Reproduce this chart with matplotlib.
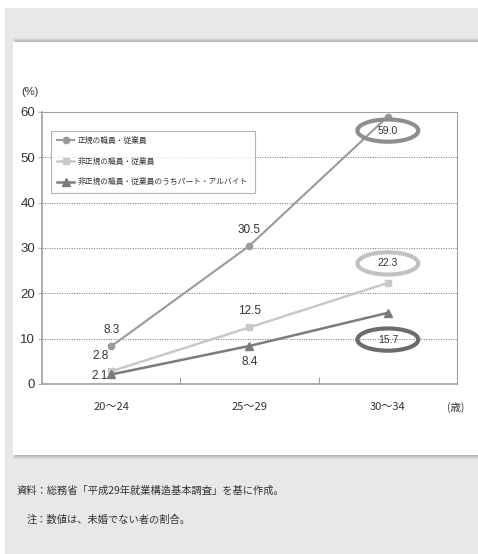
import matplotlib
matplotlib.use("Agg")
import matplotlib.pyplot as plt
from matplotlib import font_manager
from matplotlib.patches import Rectangle, Ellipse

# age groups and shares (%)
ages = ["20～24", "25～29", "30～34"]
regular = [8.3, 30.5, 59.0]
nonregular = [2.8, 12.5, 22.3]
parttime = [2.1, 8.4, 15.7]
series_names = ["正規の職員・従業員", "非正規の職員・従業員", "非正規の職員・従業員のうちパート・アルバイト"]
yticks = [0, 10, 20, 30, 40, 50, 60]

source_note = "資料：総務省「平成29年就業構造基本調査」を基に作成。"
value_note = "注：数値は、未婚でない者の割合。"

available = {f.name for f in font_manager.fontManager.ttflist}
num_font = "Liberation Sans Narrow" if "Liberation Sans Narrow" in available else "Liberation Sans"
jp_font = ["Noto Sans CJK JP", "DejaVu Sans"]
plt.rcParams["font.family"] = jp_font

c_reg = "#9a9a9a"
c_non = "#c9c9c9"
c_part = "#7c7c7c"
c_axis = "#a0a0a0"
c_text = "#333333"

fig = plt.figure(figsize=(4.78, 5.54), dpi=100)
W, H = 478, 554

def fx(px):
    return px / W

def fy(py):
    return 1 - py / H

# page background and white card with a soft shadow
fig.patches.append(Rectangle((fx(5), 0), 1, fy(8), transform=fig.transFigure,
                             facecolor="#e7e8ea", edgecolor="none", zorder=-3))
for k, a in enumerate([0.05, 0.05, 0.06, 0.07]):
    fig.patches.append(Rectangle((fx(13 + k), fy(459 - k)), 1, (459 - 42 - 2 * k + 4) / H,
                                 transform=fig.transFigure, facecolor="#000000",
                                 alpha=a, edgecolor="none", zorder=-2))
fig.patches.append(Rectangle((fx(13), fy(455)), 1, (455 - 42) / H, transform=fig.transFigure,
                             facecolor="white", edgecolor="none", zorder=-1))

ax = fig.add_axes([fx(42), fy(384), fx(457) - fx(42), fy(112) - fy(384)])
x = list(range(len(ages)))

l1, = ax.plot(x, regular, color=c_reg, lw=1.5, marker="o", ms=4.5, zorder=4)
l2, = ax.plot(x, nonregular, color=c_non, lw=1.8, marker="s", ms=4.5, zorder=3)
l3, = ax.plot(x, parttime, color=c_part, lw=1.8, marker="^", ms=5.5, zorder=5)

ax.set_xlim(-0.5, 2.5)
ax.set_ylim(0, 60)
ax.set_yticks(yticks)
ax.set_yticklabels([str(v) for v in yticks], fontfamily=num_font, fontsize=9.5, color=c_text)
ax.set_xticks(x)
ax.set_xticklabels(ages, fontfamily=jp_font, fontsize=8, color=c_text)
ax.tick_params(axis="x", length=0, pad=13)
ax.tick_params(axis="y", length=3, width=0.6, color=c_axis, pad=2)
ax.set_xticks([0.5, 1.5], minor=True)
ax.tick_params(axis="x", which="minor", direction="in", length=5, width=0.8, color=c_axis)

for s in ax.spines.values():
    s.set_color(c_axis)
    s.set_linewidth(0.8)
ax.spines["bottom"].set_linewidth(1.2)
ax.spines["left"].set_linewidth(1.2)

for v in yticks[1:-1]:
    ax.axhline(v, color="#888888", lw=0.8, ls=(0, (1, 1.2)), zorder=1)

# value labels
num_kw = dict(fontfamily=num_font, fontsize=8.5, color=c_text, ha="center")
ax.text(0, regular[0] + 2.3, f"{regular[0]:.1f}", va="bottom", **num_kw)
ax.text(-0.08, nonregular[0] + 3.4, f"{nonregular[0]:.1f}", va="center", **num_kw)
ax.text(-0.08, parttime[0] - 0.3, f"{parttime[0]:.1f}", va="center", **num_kw)
ax.text(1, regular[1] + 2.2, f"{regular[1]:.1f}", va="bottom", **num_kw)
ax.text(1, nonregular[1] + 2.2, f"{nonregular[1]:.1f}", va="bottom", **num_kw)
ax.text(1, parttime[1] - 2.2, f"{parttime[1]:.1f}", va="top", **num_kw)

# circled labels for the 30～34 values
ell_kw = dict(fontfamily=num_font, fontsize=7.5, color=c_text, ha="center", va="center", zorder=7)
for val, yc, col in [(regular[2], 55.9, "#8e8e8e"), (nonregular[2], 26.6, "#c2c2c2"),
                     (parttime[2], 9.8, "#6c6c6c")]:
    ax.add_patch(Ellipse((2, yc), 0.44, 4.9, fill=False, edgecolor=col, lw=3, zorder=6))
    ax.text(2, yc, f"{val:.1f}", **ell_kw)

leg = ax.legend([l1, l2, l3], series_names, loc="upper left", bbox_to_anchor=(0.012, 0.945),
                fontsize=5.6, frameon=True, fancybox=False, borderpad=0.8,
                labelspacing=1.6, handlelength=2.2, handletextpad=0.5, markerscale=1.0)
leg.get_frame().set_edgecolor(c_axis)
leg.get_frame().set_linewidth(0.8)
for t in leg.get_texts():
    t.set_color(c_text)

fig.text(fx(30), fy(92), "(%)", fontfamily=num_font, fontsize=8, color=c_text, ha="center", va="center")
fig.text(fx(456), fy(407), "(歳)", fontsize=7.5, color=c_text, ha="center", va="center")

fig.text(fx(17), fy(491), source_note, fontsize=7.4, color=c_text, ha="left", va="center")
fig.text(fx(27), fy(520), value_note, fontsize=7.4, color=c_text, ha="left", va="center")

fig.savefig("out.png", dpi=100, facecolor="white")
